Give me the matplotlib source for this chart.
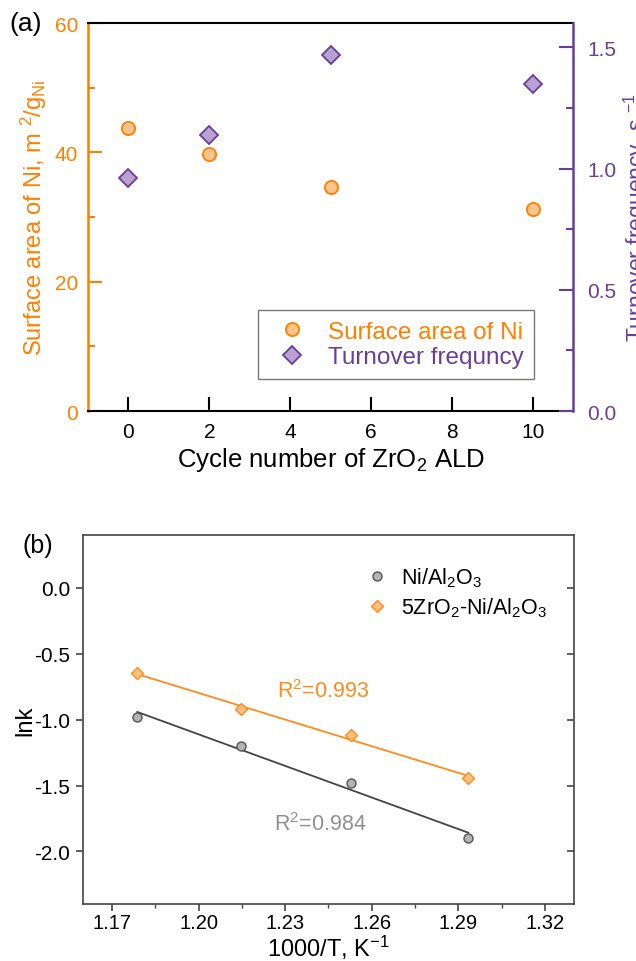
import matplotlib
matplotlib.use("Agg")
import matplotlib.pyplot as plt
import numpy as np

plt.rcParams['font.family'] = ['Liberation Sans', 'DejaVu Sans']
plt.rcParams['mathtext.default'] = 'regular'
plt.rcParams['axes.unicode_minus'] = False

# ---- data: panel (a) ----
cycles = [0, 2, 5, 10]
surface_area = [43.8, 39.8, 34.6, 31.3]     # m2/g_Ni
tof = [0.96, 1.14, 1.47, 1.35]              # s-1

# ---- data: panel (b) ----
inv_T = [1.1788, 1.2147, 1.2527, 1.2934]
lnk_ni = [-0.98, -1.20, -1.48, -1.90]
lnk_zr = [-0.65, -0.92, -1.12, -1.44]
r2_ni = "0.984"
r2_zr = "0.993"

ORANGE = '#FF7F00'
ORANGE_FILL = '#FFC48C'
PURPLE = '#6A3D9A'
PURPLE_FILL = '#B7A2D1'
GRAY_LINE = '#444444'

fig = plt.figure(figsize=(6.36, 9.62), dpi=100)

# ============================================
# Panel (a)
# ============================================
ax = fig.add_axes([0.1384, 0.5717, 0.9010 - 0.1384, 0.975 - 0.5717])
ax2 = ax.twinx()

l1, = ax.plot(cycles, surface_area, 'o', ms=9.5, mfc=ORANGE_FILL, mec=ORANGE,
              mew=1.3, label='Surface area of Ni', zorder=3)
l2, = ax2.plot(cycles, tof, 'D', ms=9, mfc=PURPLE_FILL, mec=PURPLE,
               mew=1.3, label='Turnover frequncy', zorder=3)

ax.set_xlim(-1, 11)
ax.set_ylim(0, 60)
ax2.set_ylim(0, 1.6)
ax.set_xticks([0, 2, 4, 6, 8, 10])
ax.set_yticks([0, 20, 40, 60])
ax.set_yticks([10, 30, 50], minor=True)
ax2.set_yticks([0.0, 0.5, 1.0, 1.5])
ax2.set_yticks([0.25, 0.75, 1.25], minor=True)
ax2.set_yticklabels(['0.0', '0.5', '1.0', '1.5'])

for s in ['top', 'bottom']:
    ax.spines[s].set_color('black')
    ax.spines[s].set_linewidth(1.5)
ax.spines['left'].set_color(ORANGE)
ax.spines['left'].set_linewidth(1.8)
ax.spines['right'].set_visible(False)
ax2.spines['right'].set_color(PURPLE)
ax2.spines['right'].set_linewidth(1.8)
for s in ['left', 'top', 'bottom']:
    ax2.spines[s].set_visible(False)

ax.tick_params(axis='x', direction='in', length=10, width=1.5, labelsize=15,
               pad=8, colors='black')
ax.tick_params(axis='y', which='major', direction='in', length=10, width=1.5,
               labelsize=15, pad=7, colors=ORANGE)
ax.tick_params(axis='y', which='minor', direction='in', length=5, width=1.5,
               colors=ORANGE)
ax2.tick_params(axis='y', which='major', direction='in', length=10, width=1.5,
                labelsize=15, pad=10, colors=PURPLE)
ax2.tick_params(axis='y', which='minor', direction='in', length=5, width=1.5,
                colors=PURPLE)

ax.set_xlabel('Cycle number of ZrO$_2$ ALD', fontsize=18.5, labelpad=3)
ax.set_ylabel('Surface area of Ni, m $^2$/g$_{Ni}$', fontsize=17,
              color=ORANGE, labelpad=4)
ax2.set_ylabel('Turnover frequency, s $^{-1}$', fontsize=16.5, color=PURPLE,
               labelpad=4)

leg = ax2.legend(handles=[l1, l2], loc='lower right',
                 bbox_to_anchor=(0.92, 0.082), fontsize=17.5, frameon=True,
                 fancybox=False, edgecolor='#555555', handletextpad=0.5,
                 borderpad=0.45, labelspacing=0.15, handlelength=1.9,
                 borderaxespad=0)
leg.get_frame().set_linewidth(1.0)
leg.get_texts()[0].set_color(ORANGE)
leg.get_texts()[1].set_color(PURPLE)

fig.text(0.015, 0.975, '(a)', fontsize=19, va='center', ha='left')

# ============================================
# Panel (b)
# ============================================
bx = fig.add_axes([0.1305, 0.0590, 0.9025 - 0.1305, 0.4428 - 0.0590])

# linear fits (Arrhenius)
x_arr = np.array(inv_T)
fit_ni = np.polyfit(x_arr, lnk_ni, 1)
fit_zr = np.polyfit(x_arr, lnk_zr, 1)
bx.plot(x_arr, np.polyval(fit_ni, x_arr), '-', color=GRAY_LINE, lw=1.3, zorder=2)
bx.plot(x_arr, np.polyval(fit_zr, x_arr), '-', color='#FF8C1A', lw=1.3, zorder=2)

bx.plot(inv_T, lnk_ni, 'o', ms=6.5, mfc='#B4B4B4', mec='#555555', mew=1.0,
        label='Ni/Al$_2$O$_3$', zorder=3)
bx.plot(inv_T, lnk_zr, 'D', ms=6.2, mfc='#FFC080', mec='#FF8C1A', mew=1.0,
        label='5ZrO$_2$-Ni/Al$_2$O$_3$', zorder=3)

bx.set_xlim(1.16, 1.33)
bx.set_ylim(-2.4, 0.4)
bx.set_xticks([1.17, 1.20, 1.23, 1.26, 1.29, 1.32])
bx.set_xticks([1.185, 1.215, 1.245, 1.275, 1.305], minor=True)
bx.set_yticks([0.0, -0.5, -1.0, -1.5, -2.0])
bx.set_xticklabels(['1.17', '1.20', '1.23', '1.26', '1.29', '1.32'])
bx.set_yticklabels(['0.0', '-0.5', '-1.0', '-1.5', '-2.0'])

for s in bx.spines.values():
    s.set_color(GRAY_LINE)
    s.set_linewidth(1.2)

bx.tick_params(axis='both', which='major', direction='out', length=5,
               width=1.2, labelsize=15, color=GRAY_LINE, pad=4)
bx.tick_params(axis='x', which='major', pad=1, labelsize=14.5)
bx.tick_params(axis='x', which='minor', direction='out', length=3, width=1.0,
               color=GRAY_LINE)
bx.tick_params(axis='y', which='major', right=True, labelright=False)
# right-side ticks point inward
for t in bx.yaxis.get_major_ticks():
    t.tick2line.set_marker(matplotlib.lines.TICKLEFT)

bx.set_xlabel('1000/T, K$^{-1}$', fontsize=17, labelpad=1)
bx.set_ylabel('lnk', fontsize=17, labelpad=-1)

bx.text(1.243, -0.78, 'R$^2$=' + r2_zr, color='#FF8C1A', fontsize=15.5,
        ha='center', va='center')
bx.text(1.242, -1.79, 'R$^2$=' + r2_ni, color='#909090', fontsize=15.5,
        ha='center', va='center')

bx.legend(loc='upper left', bbox_to_anchor=(0.56, 0.94), fontsize=15.5,
          frameon=False, handletextpad=0.6, labelspacing=0.3,
          handlelength=1.0, borderaxespad=0)

fig.text(0.035, 0.432, '(b)', fontsize=18, va='center', ha='left')

fig.savefig('out.png', dpi=100)
